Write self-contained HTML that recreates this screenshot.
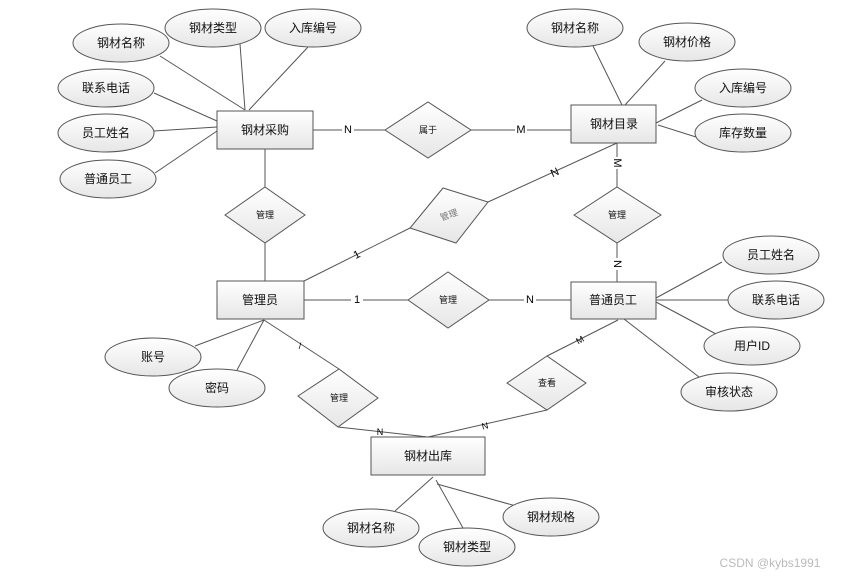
<!DOCTYPE html>
<html><head><meta charset="utf-8"><style>
html,body{margin:0;padding:0;background:#fff;}
svg text{font-family:"Liberation Sans","Noto Sans CJK SC",sans-serif;}
</style></head><body>
<svg width="846" height="577" viewBox="0 0 846 577" xmlns="http://www.w3.org/2000/svg">
<defs>
<linearGradient id="g" x1="0" y1="0" x2="0" y2="1"><stop offset="0" stop-color="#ffffff"/><stop offset="1" stop-color="#e6e6e6"/></linearGradient>
</defs>
<g stroke="#555" stroke-width="1" fill="none">
<line x1="160" y1="56" x2="245" y2="110"/><line x1="240" y1="44" x2="245" y2="110"/><line x1="308" y1="47" x2="249" y2="110"/>
<line x1="154" y1="93" x2="217" y2="121"/><line x1="154" y1="131" x2="217" y2="127"/><line x1="155" y1="173" x2="217" y2="131"/>
<line x1="593" y1="46" x2="622" y2="105"/><line x1="665" y1="61" x2="625" y2="105"/><line x1="702" y1="100" x2="656" y2="123"/><line x1="696" y1="137" x2="658" y2="125"/>
<line x1="656" y1="298" x2="722" y2="262"/><line x1="656" y1="300" x2="729" y2="300"/><line x1="656" y1="302" x2="716" y2="334"/><line x1="624" y1="319" x2="699" y2="377"/>
<line x1="264" y1="320" x2="195" y2="346"/><line x1="264" y1="320" x2="237" y2="370"/>
<line x1="433" y1="477" x2="395" y2="511"/><line x1="436" y1="480" x2="463" y2="528"/><line x1="437" y1="484" x2="516" y2="506"/>
<line x1="313" y1="130" x2="385" y2="130"/><line x1="471" y1="130" x2="571" y2="130"/>
<line x1="265" y1="149" x2="265" y2="187"/><line x1="265" y1="243" x2="265" y2="281"/>
<line x1="304" y1="281" x2="410" y2="228"/><line x1="488" y1="202" x2="617" y2="143"/>
<line x1="617" y1="143" x2="617" y2="187"/><line x1="617" y1="243" x2="617" y2="282"/>
<line x1="304" y1="300" x2="408" y2="300"/><line x1="489" y1="300" x2="571" y2="300"/>
<line x1="264" y1="320" x2="339" y2="369"/><line x1="338" y1="427" x2="428" y2="437"/>
<line x1="618" y1="320" x2="547" y2="356"/><line x1="547" y1="410" x2="428" y2="437"/>
</g>
<g font-size="11" text-anchor="middle" dominant-baseline="central">
<g fill="#fff">
<rect x="342" y="123" width="12" height="14"/><rect x="515" y="123" width="12" height="14"/>
<rect x="351" y="293" width="12" height="14"/><rect x="524" y="293" width="12" height="14"/>
<rect x="611" y="157" width="12" height="12"/><rect x="611" y="258" width="12" height="12"/>
</g>
<g fill="#000">
<text x="348" y="130">N</text><text x="521" y="130">M</text>
<text x="357" y="300">1</text><text x="530" y="300">N</text>
<text x="357" y="255" transform="rotate(-27 357 255)">1</text>
<text x="555" y="173" transform="rotate(-25 555 173)">N</text>
<text x="617" y="163" transform="rotate(90 617 163)">M</text>
<text x="617" y="264" transform="rotate(90 617 264)">N</text>
<text x="300" y="346" font-size="9">/</text>
<text x="380" y="432" font-size="9">N</text>
<text x="485" y="426" font-size="9" transform="rotate(-13 485 426)">N</text>
<text x="580" y="340" font-size="9" transform="rotate(-30 580 340)">M</text>
</g>
</g>
<g fill="url(#g)" stroke="#555">
<rect x="217" y="111" width="96" height="38"/><rect x="571" y="105" width="85" height="38"/>
<rect x="217" y="281" width="87" height="38"/><rect x="571" y="282" width="85" height="37"/>
<rect x="371" y="437" width="114" height="38"/>
<polygon points="385,130 428,102 471,130 428,158"/>
<polygon points="225,215 265,187 305,215 265,243"/>
<polygon points="443,188 488,202 456,243 410,228"/>
<polygon points="574,215 617,187 661,215 617,243"/>
<polygon points="408,300 448,272 489,300 448,328"/>
<polygon points="298,396 339,369 378,398 338,427"/>
<polygon points="507,383 547,356 586,383 547,410"/>
<ellipse cx="121" cy="43" rx="48" ry="19"/><ellipse cx="213" cy="28" rx="48" ry="19"/><ellipse cx="313" cy="28" rx="48" ry="19"/>
<ellipse cx="106" cy="88" rx="48" ry="19"/><ellipse cx="106" cy="133" rx="48" ry="19"/><ellipse cx="108" cy="179" rx="48" ry="19"/>
<ellipse cx="575" cy="28" rx="48" ry="19"/><ellipse cx="687" cy="42" rx="48" ry="19"/><ellipse cx="743" cy="88" rx="48" ry="19"/><ellipse cx="743" cy="133" rx="48" ry="19"/>
<ellipse cx="771" cy="255" rx="48" ry="19"/><ellipse cx="776" cy="300" rx="48" ry="19"/><ellipse cx="752" cy="346" rx="48" ry="19"/><ellipse cx="729" cy="392" rx="48" ry="19"/>
<ellipse cx="153" cy="357" rx="48" ry="19"/><ellipse cx="217" cy="388" rx="48" ry="19"/>
<ellipse cx="371" cy="528" rx="48" ry="19"/><ellipse cx="467" cy="547" rx="48" ry="19"/><ellipse cx="551" cy="517" rx="48" ry="19"/>
</g>
<g font-size="12" fill="#111" text-anchor="middle" dominant-baseline="central">
<text x="265" y="130">钢材采购</text><text x="614" y="124">钢材目录</text><text x="260" y="300">管理员</text><text x="613" y="300">普通员工</text><text x="428" y="456">钢材出库</text>
<text x="121" y="43">钢材名称</text><text x="213" y="28">钢材类型</text><text x="313" y="28">入库编号</text>
<text x="106" y="88">联系电话</text><text x="106" y="133">员工姓名</text><text x="108" y="179">普通员工</text>
<text x="575" y="28">钢材名称</text><text x="687" y="42">钢材价格</text><text x="743" y="88">入库编号</text><text x="743" y="133">库存数量</text>
<text x="771" y="255">员工姓名</text><text x="776" y="300">联系电话</text><text x="752" y="346">用户ID</text><text x="729" y="392">审核状态</text>
<text x="153" y="357">账号</text><text x="217" y="388">密码</text>
<text x="371" y="528">钢材名称</text><text x="467" y="547">钢材类型</text><text x="551" y="517">钢材规格</text>
<g font-size="9"><text x="428" y="130">属于</text><text x="265" y="215">管理</text><text x="617" y="215">管理</text><text x="448" y="300">管理</text><text x="339" y="398">管理</text><text x="547" y="383">查看</text>
<text x="449" y="215" fill="#777" transform="rotate(-20 449 215)">管理</text></g>
<text x="770" y="563" font-size="12" fill="#bbb">CSDN @kybs1991</text>
</g>
</svg>
</body></html>
